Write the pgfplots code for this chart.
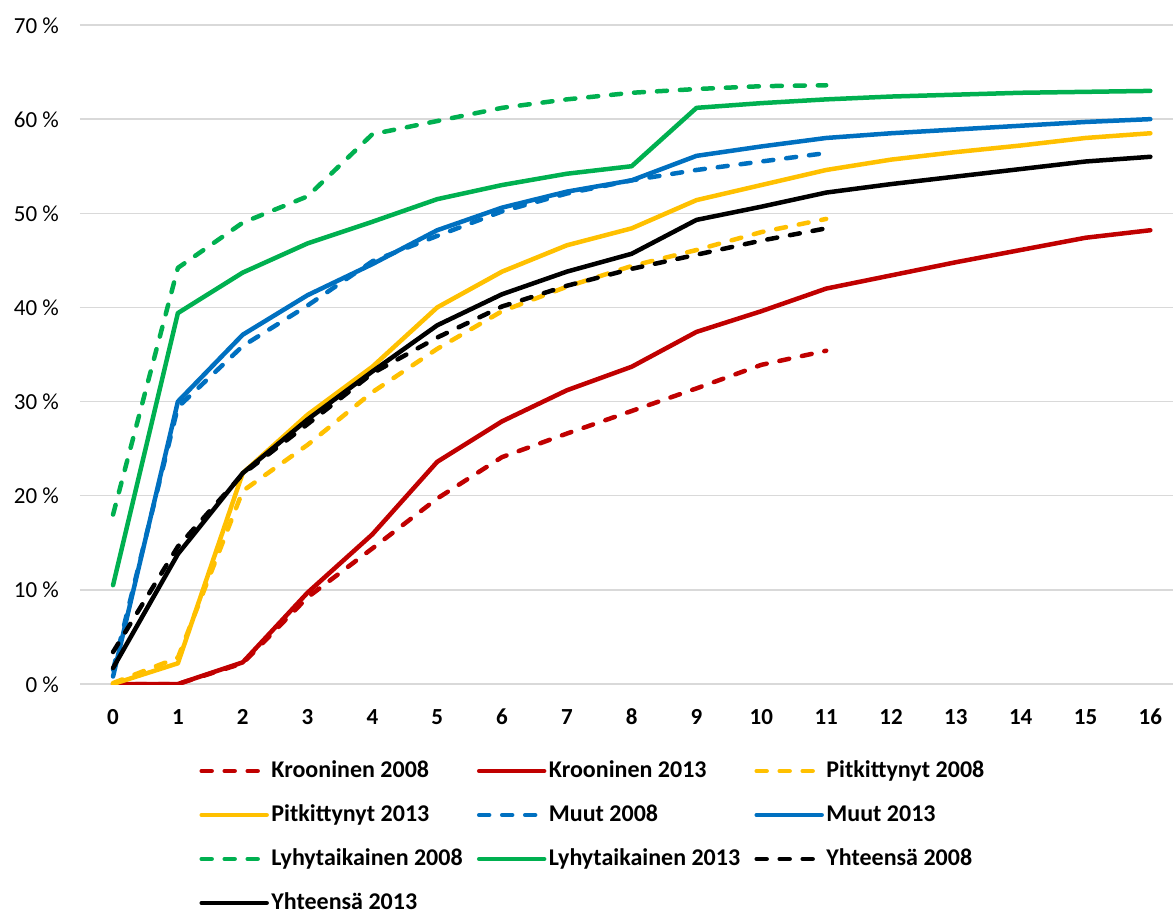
\documentclass[border=0pt]{standalone}
\usepackage{pgfplots}
\pgfplotsset{compat=1.18}
\usepackage{fontspec}
\setmainfont{Carlito}
\definecolor{cred}{HTML}{C00000}
\definecolor{cyel}{HTML}{FFC000}
\definecolor{cblu}{HTML}{0070C0}
\definecolor{cgrn}{HTML}{00B050}
\definecolor{cgrid}{HTML}{D9D9D9}
\begin{document}
\begin{tikzpicture}
\begin{axis}[
  scale only axis,
  width=1093pt, height=659pt,
  xmin=-0.51, xmax=16.35, ymin=0, ymax=70,
  axis line style={draw=none},
  tick style={draw=none},
  ymajorgrids,
  major grid style={draw=cgrid, line width=1.5pt},
  xtick={0,1,...,16},
  ytick={0,10,...,70},
  yticklabels={0 \%,10 \%,20 \%,30 \%,40 \%,50 \%,60 \%,70 \%},
  /pgf/number format/assume math mode=true,
  xticklabel style={font=\bfseries\fontsize{23pt}{27pt}\selectfont, anchor=base, inner sep=0pt, yshift=-40.5pt},
  yticklabel style={font=\fontsize{23pt}{27pt}\selectfont, anchor=base east, inner sep=0pt, xshift=-21pt, yshift=-8pt},
  legend columns=3,
  legend cell align=left,
  legend image code/.code={\draw[#1] (0pt,0pt) -- (65pt,0pt); \path (-2.5pt,0pt) (67.5pt,0pt);},
  legend style={draw=none, fill=none, inner sep=0pt, outer sep=0pt,
    at={(axis description cs:0.107,-0.1168)}, anchor=north west,
    font=\bfseries\fontsize{24pt}{28pt}\selectfont,
    column sep=0pt, row sep=24pt,
    nodes={inner sep=0pt, text height=17pt, text depth=3pt}},
  every axis plot/.append style={line width=4.5pt, line join=round, line cap=round},
  dashed2008/.style={dash pattern=on 10pt off 13pt},
]
% Krooninen 2008
\addplot[color=cred, dashed2008] coordinates {(0,0)(1,0)(2,2.2)(3,9.2)(4,14.4)(5,19.7)(6,24.1)(7,26.6)(8,29.0)(9,31.4)(10,33.9)(11,35.4)};
\addlegendentry{\makebox[203pt][l]{Krooninen 2008}}
% Krooninen 2013
\addplot[color=cred] coordinates {(0,0)(1,0)(2,2.3)(3,9.7)(4,15.9)(5,23.6)(6,27.9)(7,31.2)(8,33.7)(9,37.4)(10,39.6)(11,42.0)(12,43.4)(13,44.8)(14,46.1)(15,47.4)(16,48.2)};
\addlegendentry{\makebox[203pt][l]{Krooninen 2013}}
% Pitkittynyt 2008
\addplot[color=cyel, dashed2008] coordinates {(0,0.1)(1,2.8)(2,20.5)(3,25.4)(4,31.0)(5,35.6)(6,39.6)(7,42.2)(8,44.4)(9,46.1)(10,48.0)(11,49.4)};
\addlegendentry{\makebox[203pt][l]{Pitkittynyt 2008}}
% Pitkittynyt 2013
\addplot[color=cyel] coordinates {(0,0)(1,2.2)(2,22.4)(3,28.6)(4,33.7)(5,40.0)(6,43.8)(7,46.6)(8,48.4)(9,51.4)(10,53.0)(11,54.6)(12,55.7)(13,56.5)(14,57.2)(15,58.0)(16,58.5)};
\addlegendentry{\makebox[203pt][l]{Pitkittynyt 2013}}
% Muut 2008
\addplot[color=cblu, dashed2008] coordinates {(0,1.5)(1,29.4)(2,35.9)(3,40.2)(4,44.9)(5,47.6)(6,50.2)(7,52.1)(8,53.5)(9,54.6)(10,55.5)(11,56.4)};
\addlegendentry{\makebox[203pt][l]{Muut 2008}}
% Muut 2013
\addplot[color=cblu] coordinates {(0,0.8)(1,30.0)(2,37.1)(3,41.3)(4,44.6)(5,48.2)(6,50.6)(7,52.3)(8,53.5)(9,56.1)(10,57.1)(11,58.0)(12,58.5)(13,58.9)(14,59.3)(15,59.7)(16,60.0)};
\addlegendentry{\makebox[203pt][l]{Muut 2013}}
% Lyhytaikainen 2008
\addplot[color=cgrn, dashed2008] coordinates {(0,18.0)(1,44.2)(2,49.0)(3,51.8)(4,58.4)(5,59.8)(6,61.2)(7,62.1)(8,62.8)(9,63.2)(10,63.5)(11,63.6)};
\addlegendentry{\makebox[203pt][l]{Lyhytaikainen 2008}}
% Lyhytaikainen 2013
\addplot[color=cgrn] coordinates {(0,10.5)(1,39.4)(2,43.7)(3,46.8)(4,49.1)(5,51.5)(6,53.0)(7,54.2)(8,55.0)(9,61.2)(10,61.7)(11,62.1)(12,62.4)(13,62.6)(14,62.8)(15,62.9)(16,63.0)};
\addlegendentry{\makebox[203pt][l]{Lyhytaikainen 2013}}
% Yhteensa 2008
\addplot[color=black, dashed2008] coordinates {(0,3.4)(1,14.6)(2,22.3)(3,27.6)(4,33.0)(5,36.8)(6,40.1)(7,42.3)(8,44.1)(9,45.6)(10,47.1)(11,48.4)};
\addlegendentry{\makebox[203pt][l]{Yhteensä 2008}}
% Yhteensa 2013
\addplot[color=black] coordinates {(0,1.7)(1,13.8)(2,22.4)(3,28.1)(4,33.2)(5,38.1)(6,41.4)(7,43.8)(8,45.7)(9,49.3)(10,50.7)(11,52.2)(12,53.1)(13,53.9)(14,54.7)(15,55.5)(16,56.0)};
\addlegendentry{\makebox[203pt][l]{Yhteensä 2013}}
\end{axis}
\pgfresetboundingbox
\path (current axis.south west) ++(-80pt,-229pt) rectangle ++(1173pt,913pt);
\end{tikzpicture}
\end{document}
